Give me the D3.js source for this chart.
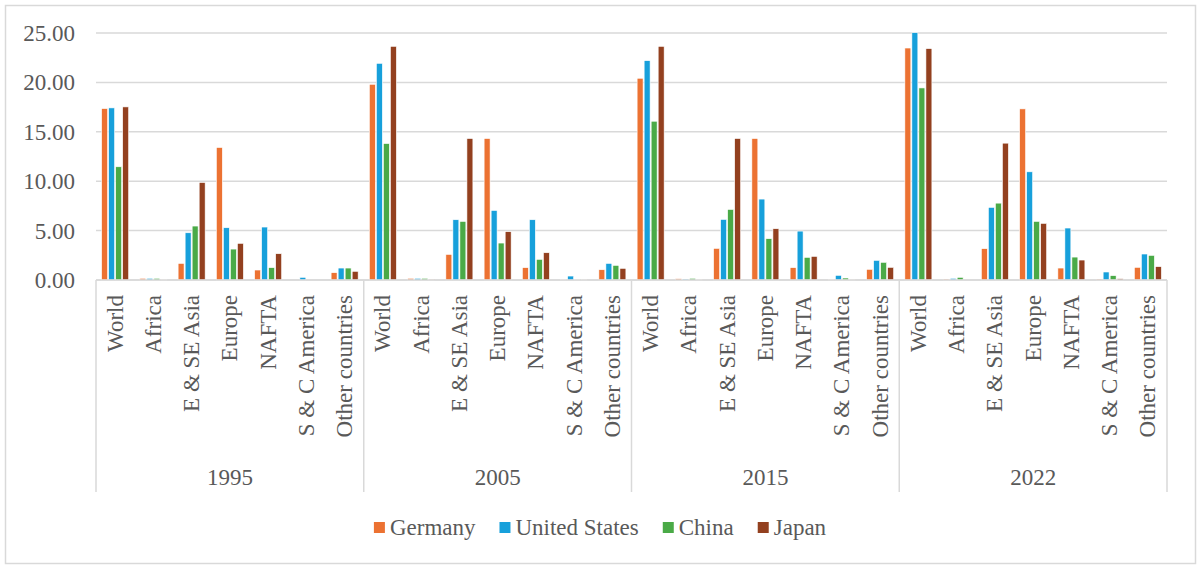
<!DOCTYPE html>
<html>
<head>
<meta charset="utf-8">
<script src="https://cdn.jsdelivr.net/npm/d3@7"></script>
<style>
  body { margin: 0; background: #fff; }
</style>
</head>
<body>
<div id="chart"></div>
<script>
// Categories
const years = ["1995", "2005", "2015", "2022"];
const regions = ["World", "Africa", "E & SE Asia", "Europe", "NAFTA", "S & C America", "Other countries"];
const countries = ["Germany", "United States", "China", "Japan"];
const colors = ["#EC7232", "#17A0DB", "#4AAA47", "#93401F"];
const yTicks = [0, 5, 10, 15, 20, 25];

// Values, year by year, in region order
const germany = [
  17.35, 0.17, 1.68, 13.41, 1.01, 0.00, 0.74,
  19.81, 0.17, 2.59, 14.32, 1.25, 0.05, 1.04,
  20.42, 0.13, 3.20, 14.32, 1.25, 0.07, 1.08,
  23.48, 0.10, 3.17, 17.32, 1.21, 0.10, 1.28
];
const unitedStates = [
  17.42, 0.17, 4.78, 5.29, 5.36, 0.27, 1.21,
  21.93, 0.17, 6.10, 7.04, 6.10, 0.40, 1.68,
  22.20, 0.10, 6.13, 8.19, 4.95, 0.47, 1.99,
  25.03, 0.17, 7.35, 10.95, 5.26, 0.81, 2.63
];
const china = [
  11.46, 0.17, 5.46, 3.13, 1.25, 0.00, 1.21,
  13.81, 0.17, 5.93, 3.74, 2.09, 0.05, 1.48,
  16.07, 0.17, 7.14, 4.18, 2.29, 0.20, 1.79,
  19.44, 0.27, 7.78, 5.93, 2.32, 0.44, 2.49
];
const japan = [
  17.52, 0.05, 9.87, 3.71, 2.66, 0.00, 0.88,
  23.65, 0.08, 14.32, 4.89, 2.76, 0.05, 1.18,
  23.65, 0.05, 14.32, 5.19, 2.39, 0.07, 1.28,
  23.42, 0.00, 13.85, 5.73, 2.02, 0.13, 1.35
];
const series = [germany, unitedStates, china, japan];

const width = 1200, height = 569;
const margin = { top: 33, right: 33, bottom: 289, left: 96 };
const FONT = "'Liberation Serif', 'Times New Roman', Times, Tinos, 'Noto Serif', 'DejaVu Serif', FreeSerif, serif";

const svg = d3.select('#chart').append('svg')
  .attr('width', width)
  .attr('height', height)
  .attr('font-family', FONT);

// outer frame
svg.append('rect')
  .attr('x', 5.5).attr('y', 5.5)
  .attr('width', 1190).attr('height', 558)
  .attr('fill', 'none')
  .attr('stroke', '#d9d9d9')
  .attr('stroke-width', 1.5);

// one slot per (year, region)
const slots = [];
years.forEach(y => regions.forEach(r => slots.push(y + '|' + r)));

const x0 = d3.scaleBand()
  .domain(slots)
  .range([margin.left, width - margin.right]);

const x1 = d3.scaleBand()
  .domain(countries)
  .range([0, x0.bandwidth()])
  .paddingInner(0.15)
  .paddingOuter(0.8);

const yearScale = d3.scaleBand()
  .domain(years)
  .range([margin.left, width - margin.right]);

const y = d3.scaleLinear()
  .domain([0, 25])
  .range([height - margin.bottom, margin.top]);

function label(sel) {
  return sel.attr('font-family', FONT).attr('fill', '#595959').style('font-size', '23px');
}

// gridlines
svg.append('g')
  .selectAll('line')
  .data(yTicks)
  .enter()
  .append('line')
  .attr('x1', margin.left)
  .attr('x2', width - margin.right)
  .attr('y1', d => y(d))
  .attr('y2', d => y(d))
  .attr('stroke', '#d9d9d9')
  .attr('stroke-width', 1.5);

// y labels
svg.append('g')
  .selectAll('text')
  .data(yTicks)
  .enter()
  .append('text')
  .attr('x', 75)
  .attr('y', d => y(d))
  .attr('dy', '0.35em')
  .attr('text-anchor', 'end')
  .call(label)
  .text(d => d.toFixed(2));

// bars
const rows = slots.map((s, i) => ({ slot: s, values: series.map(arr => arr[i]) }));
svg.append('g')
  .selectAll('g')
  .data(rows)
  .enter()
  .append('g')
  .attr('transform', d => `translate(${x0(d.slot)},0)`)
  .selectAll('rect')
  .data(d => d.values.map((v, k) => ({ country: countries[k], value: v, k })))
  .enter()
  .append('rect')
  .attr('x', d => x1(d.country))
  .attr('width', x1.bandwidth())
  .attr('y', d => y(d.value))
  .attr('height', d => y(0) - y(d.value))
  .attr('fill', d => colors[d.k])
  .attr('stroke', '#fff')
  .attr('stroke-width', 0.6);

// x axis baseline
svg.append('line')
  .attr('x1', margin.left).attr('x2', width - margin.right)
  .attr('y1', y(0)).attr('y2', y(0))
  .attr('stroke', '#d9d9d9').attr('stroke-width', 1.5);

// group separators
const bounds = years.map(yr => yearScale(yr)).concat([width - margin.right]);
svg.append('g')
  .selectAll('line')
  .data(bounds)
  .enter()
  .append('line')
  .attr('x1', d => d).attr('x2', d => d)
  .attr('y1', y(0)).attr('y2', 492)
  .attr('stroke', '#d9d9d9').attr('stroke-width', 1.5);

// region labels (rotated)
svg.append('g')
  .selectAll('text')
  .data(slots)
  .enter()
  .append('text')
  .attr('transform', d => `translate(${x0(d) + x0.bandwidth() / 2},${y(0) + 15}) rotate(-90)`)
  .attr('dy', '0.33em')
  .attr('text-anchor', 'end')
  .call(label)
  .text(d => d.split('|')[1]);

// year labels
svg.append('g')
  .selectAll('text')
  .data(years)
  .enter()
  .append('text')
  .attr('x', d => yearScale(d) + yearScale.bandwidth() / 2)
  .attr('y', 485)
  .attr('text-anchor', 'middle')
  .call(label)
  .text(d => d);

// legend
const legend = svg.append('g');
let lx = 0;
countries.forEach((c, i) => {
  const item = legend.append('g').attr('transform', `translate(${lx},0)`);
  item.append('rect')
    .attr('x', 0).attr('y', 522)
    .attr('width', 11).attr('height', 11)
    .attr('fill', colors[i]);
  const t = item.append('text')
    .attr('x', 16).attr('y', 535)
    .call(label)
    .text(c);
  lx += 16 + t.node().getComputedTextLength() + 24;
});
const legendWidth = lx - 24;
legend.attr('transform', `translate(${(width - legendWidth) / 2},0)`);
</script>
</body>
</html>
